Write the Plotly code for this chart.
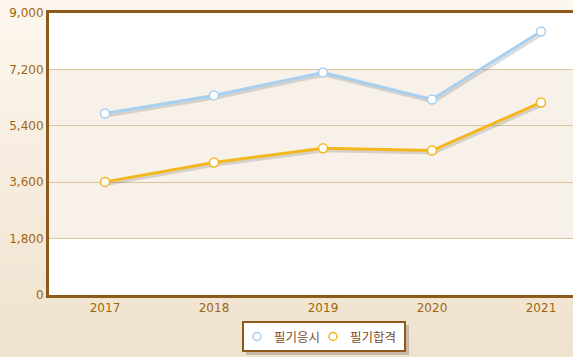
import plotly.graph_objects as go

years = ["2017", "2018", "2019", "2020", "2021"]
applicants = [5790, 6370, 7100, 6240, 8410]   # 필기응시
passed = [3610, 4230, 4680, 4610, 6145]       # 필기합격
y_ticks = [0, 1800, 3600, 5400, 7200, 9000]
series_names = ["필기응시", "필기합격"]

W, H = 573, 357
ML, MT, MB, MR = 49, 13, 62, 0
PW, PH = W - ML - MR, H - MT - MB
UNIT = 109.0  # px per category
x0 = -(105 - ML) / UNIT
x1 = x0 + PW / UNIT

xs = list(range(len(years)))
BLUE = "#a6cff0"
YEL = "#f1b71c"
BROWN = "#8c5a1a"
TXT = "#a0660e"
LEG_TXT = "#7b4a2c"


def px(x):
    return (x - ML) / PW


def py(y):
    return (MT + PH - y) / PH


fig = go.Figure()

# shadows (offset by a couple of pixels)
dx = 1.5 / UNIT
dy = 2.5 / PH * 9000
for vals in (applicants, passed):
    fig.add_trace(go.Scatter(x=[v + dx for v in xs], y=[v - dy for v in vals], mode="lines",
                             line=dict(color="rgba(60,60,60,0.18)", width=3),
                             hoverinfo="skip", showlegend=False))

for vals, col, name in ((applicants, BLUE, series_names[0]), (passed, YEL, series_names[1])):
    fig.add_trace(go.Scatter(x=xs, y=vals, mode="lines+markers", name=name,
                             line=dict(color=col, width=3),
                             marker=dict(size=9, color="white", line=dict(color=col, width=1.5)),
                             showlegend=False))

shapes = []
# background gradient
N = 40
c_top = (253, 247, 239)
c_bot = (239, 226, 206)
py0 = -MB / PH
py1 = 1 + MT / PH
px0 = -ML / PW
for i in range(N):
    t = i / (N - 1)
    c = tuple(round(c_top[k] + (c_bot[k] - c_top[k]) * t) for k in range(3))
    ya = py1 - (py1 - py0) * i / N
    yb = py1 - (py1 - py0) * (i + 1) / N
    shapes.append(dict(type="rect", xref="paper", yref="paper", x0=px0, x1=1.01,
                       y0=yb - 0.002, y1=ya + 0.002, line=dict(width=0),
                       fillcolor="rgb(%d,%d,%d)" % c, layer="below"))
# plot bands
band_cols = ["#ffffff", "#f8f1e9", "#f8f1e9", "#f8f1e9", "#ffffff"]
for i in range(len(y_ticks) - 1):
    shapes.append(dict(type="rect", xref="paper", yref="y", x0=0, x1=1.01,
                       y0=y_ticks[i], y1=y_ticks[i + 1], line=dict(width=0),
                       fillcolor=band_cols[i], layer="below"))

# custom legend box
shapes.append(dict(type="rect", xref="paper", yref="paper",
                   x0=px(246), x1=px(409), y0=py(355), y1=py(325),
                   line=dict(width=0), fillcolor="rgba(110,90,70,0.30)", layer="above"))
shapes.append(dict(type="rect", xref="paper", yref="paper",
                   x0=px(243), x1=px(405), y0=py(351), y1=py(322),
                   line=dict(width=2, color=BROWN), fillcolor="white", layer="above"))
annotations = []
leg_items = [(series_names[0], BLUE, 257, 272), (series_names[1], YEL, 333, 348)]
for name, col, mx, tx in leg_items:
    shapes.append(dict(type="circle", xref="paper", yref="paper",
                       x0=px(mx - 4), x1=px(mx + 4), y0=py(340.5), y1=py(332.5),
                       line=dict(width=1.5, color=col), fillcolor="white", layer="above"))
    annotations.append(dict(text=name, xref="paper", yref="paper", x=px(tx), y=py(336.5),
                            xanchor="left", yanchor="middle", showarrow=False,
                            font=dict(family="Noto Sans CJK KR", size=12.5, color=LEG_TXT)))

fig.update_layout(
    width=W, height=H,
    margin=dict(l=ML, r=MR, t=MT, b=MB, pad=0),
    paper_bgcolor="#f7eee2",
    plot_bgcolor="rgba(0,0,0,0)",
    shapes=shapes,
    annotations=annotations,
    font=dict(family="DejaVu Sans", size=12, color=TXT),
    xaxis=dict(range=[x0, x1], tickvals=xs, ticktext=years, showgrid=False, zeroline=False,
               showline=True, linecolor=BROWN, linewidth=3, mirror=True, ticks="",
               ticklen=0, fixedrange=True, tickfont=dict(size=12, color=TXT)),
    yaxis=dict(range=[0, 9000], tickvals=y_ticks, tickformat=",", showgrid=True,
               gridcolor="#dcc39c", gridwidth=1, zeroline=False, showline=True,
               linecolor=BROWN, linewidth=3, ticks="", fixedrange=True,
               tickfont=dict(size=12, color=TXT)),
    showlegend=False,
)

fig.write_html("out.html", config={"displayModeBar": False},
               post_script="document.body.style.margin='0';document.body.style.overflow='hidden';")
